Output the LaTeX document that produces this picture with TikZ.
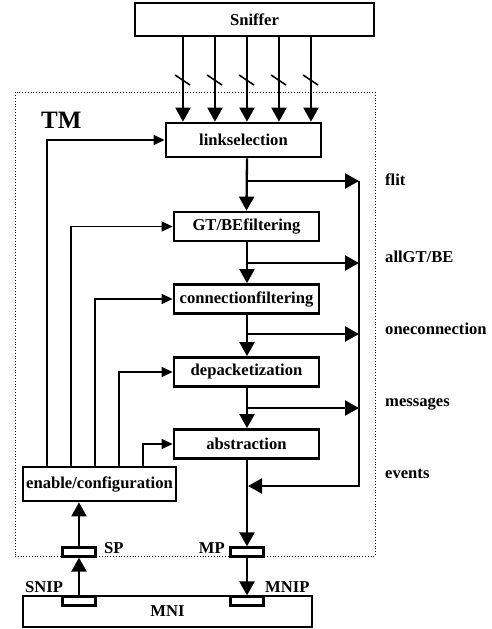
\documentclass[tikz,border=0pt]{standalone}
\usepackage{fontspec}
\setmainfont{Liberation Serif}
\usetikzlibrary{arrows.meta,positioning,calc}

\begin{document}
\begin{tikzpicture}[x=1pt,y=-1pt,
  every node/.style={font=\fontsize{16.6}{19}\selectfont\bfseries},
  blk/.style={draw,line width=2.8pt,inner sep=0pt,minimum width=145pt,minimum height=29pt},
  port/.style={draw,fill=white,line width=2.2pt,inner sep=0pt,minimum width=33pt,minimum height=9pt},
  main/.style={line width=2.3pt,-{Triangle[length=14pt,width=15pt]}},
  ctrl/.style={line width=1.3pt,-{Triangle[length=11pt,width=10pt]}},
  lbl/.style={anchor=base west,inner sep=0pt}]
\useasboundingbox (0,0) rectangle (491,629);

% monitor frame
\node[draw,dotted,line width=0.8pt,inner sep=0pt,minimum width=360pt,minimum height=464pt] (tm) at (195,324) {};
\node[lbl,font=\fontsize{25}{28}\selectfont\bfseries] (tmname) at (41,128) {TM};

% blocks
\node[blk,minimum width=239pt,minimum height=33pt] (sniffer) at (254.5,19.5) {Sniffer};
\node[blk,minimum width=155pt,minimum height=34pt] (link) at (243.5,140) {linkselection};
\node[blk] (gt)   at (246.5,226.5) {GT/BEfiltering};
\node[blk] (conn) at (246.5,299) {connectionfiltering};
\node[blk] (dep)  at (246.5,372) {depacketization};
\node[blk] (abs)  at (246.5,444) {abstraction};
\node[blk,minimum width=153pt,minimum height=34pt] (enable) at (99.5,484) {enable/configuration};
\node[blk,minimum width=289pt,minimum height=31pt] (mni) at (167.5,611.5) {MNI};

% ports
\node[port] (sp)   at (79,552) {};
\node[port] (mp)   at (247,552) {};
\node[port] (snip) at (79,601) {};
\node[port] (mnip) at (247,601) {};
\node[lbl] (splbl)   at (104,553) {SP};
\node[lbl,anchor=base east] (mplbl) at (225,553) {MP};
\node[lbl] (sniplbl) at (25,592) {SNIP};
\node[lbl] (mniplbl) at (265,592) {MNIP};

% sniffer links
\foreach \x [count=\i] in {183,215,247,279,311} {
  \coordinate (cut\i) at (\x,80);
  \draw[main] (sniffer.south -| cut\i) -- (link.north -| cut\i);
  \draw[line width=1.6pt] ([shift={(-8,-5)}]cut\i) -- ([shift={(7,5)}]cut\i);
}

% trunk
\coordinate (trunk) at (247,0);
\coordinate (bus) at (359,0);
\draw[main] (link.south -| trunk) -- (gt.north);
\draw[main] (gt.south -| trunk) -- (conn.north -| trunk);
\draw[main] (conn.south -| trunk) -- (dep.north -| trunk);
\draw[main] (dep.south -| trunk) -- (abs.north -| trunk);
\draw[main] (abs.south -| trunk) -- (mp.north);
\draw[main] (mp.south) -- (mnip.north);
\draw[main] (snip.north) -- (sp.south);
\draw[main] (sp.north) -- (enable.south -| sp);

% taps to the output bus
\coordinate (b1) at (247,181);
\coordinate (b2) at (247,263);
\coordinate (b3) at (247,334);
\coordinate (b4) at (247,408);
\coordinate (ev) at (248,486);
\foreach \b in {b1,b2,b3,b4}
  \draw[main] (\b) -- (\b -| bus);
\draw[main,line join=miter] (b1 -| bus) -- (ev -| bus) -- (ev);

\node[lbl] (flit)   at (385,185) {flit};
\node[lbl] (allgt)  at (385,262) {allGT/BE};
\node[lbl] (onecon) at (385,334) {oneconnection};
\node[lbl] (msgs)   at (385,406) {messages};
\node[lbl] (events) at (385,478) {events};

% configuration lines
\foreach \x/\t in {47/link,71/gt,95/conn,119/dep,143/abs}
  \draw[ctrl] (enable.north -| \x,0) |- (\t.west);
\end{tikzpicture}
\end{document}
